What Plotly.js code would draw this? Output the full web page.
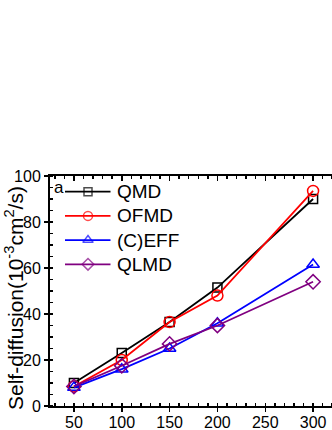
<!DOCTYPE html>
<html><head><meta charset="utf-8">
<script src="https://cdn.plot.ly/plotly-3.0.1.min.js"></script>
<style>html,body{margin:0;padding:0;overflow:hidden;background:#fff;width:332px;height:430px}</style>
</head><body><div id="chart"></div>
<script>
const temps = [50, 100, 150, 200, 300];
const qmd = [10, 23, 36.5, 51.5, 90];
const ofmd = [8.5, 20, 36.5, 48, 93.5];
const ceff = [8, 16, 25, 36, 61.5];
const qlmd = [8.5, 17.5, 27, 35, 54];
const names = ['QMD', 'OFMD', '(C)EFF', 'QLMD'];
const series = [qmd, ofmd, ceff, qlmd];
const colors = ['#000000', '#ff0000', '#0000ff', '#800080'];
const symbols = ['square-open', 'circle-open', 'triangle-up-open', 'diamond-open'];
const sizes = [9, 11, 11, 11];
const legSizes = [8, 9, 9, 9];

// plot-area geometry (px) used to place the hand-built legend
const W = 340, H = 430, ML = 50, MR = 3, MT = 176, MB = 24;
const PW = W - ML - MR, PH = H - MT - MB;
const px2x = p => (p - ML) / PW;
const px2y = p => (H - MB - p) / PH;
const legTop = 191.7, legStep = 24.2, legL = 65, legR = 110.5, legMk = 88, legTxt = 115;

const traces = series.map((s, i) => ({
  x: temps, y: s, name: names[i], type: 'scatter', mode: 'lines+markers',
  line: {color: colors[i], width: 1.8},
  marker: {symbol: symbols[i], size: sizes[i], color: colors[i], line: {width: 1.5, color: colors[i]}},
  showlegend: false
}));

const fnt = {family: 'Liberation Sans, Arial, sans-serif', color: '#000'};
const shapes = [], annotations = [];
names.forEach((n, i) => {
  const yy = px2y(legTop + i * legStep);
  shapes.push({type: 'line', xref: 'paper', yref: 'paper', x0: px2x(legL), x1: px2x(legR), y0: yy, y1: yy,
    line: {color: colors[i], width: 1.8}, layer: 'below'});
  annotations.push({text: n, xref: 'paper', yref: 'paper', x: px2x(legTxt), y: yy, xanchor: 'left', yanchor: 'middle',
    showarrow: false, font: Object.assign({size: 19}, fnt)});
});
// legend icons on a hidden [0,1] overlay
traces.push({
  x: names.map(() => px2x(legMk)), y: names.map((n, i) => px2y(legTop + i * legStep)),
  xaxis: 'x3', yaxis: 'y3', mode: 'markers', showlegend: false, hoverinfo: 'skip',
  marker: {symbol: symbols, size: legSizes, color: colors, line: {width: 1.5, color: colors}}
});
annotations.push({
  text: 'a', xref: 'paper', yref: 'paper', x: px2x(52), y: 1.0, xanchor: 'left', yanchor: 'top',
  showarrow: false, font: Object.assign({size: 17}, fnt)
});
annotations.push({
  text: 'Self-diffusion(10<sup>-3</sup>cm<sup>2</sup>/s)', xref: 'paper', yref: 'paper',
  x: px2x(14), y: px2y(298), xanchor: 'center', yanchor: 'middle', textangle: -90,
  showarrow: false, font: Object.assign({size: 21}, fnt)
});

const layout = {
  width: W, height: H,
  margin: {l: ML, r: MR, t: MT, b: MB},
  paper_bgcolor: '#fff', plot_bgcolor: '#fff',
  showlegend: false,
  font: Object.assign({size: 16}, fnt),
  xaxis: {
    range: [25, 325], tickvals: [50, 100, 150, 200, 250, 300],
    ticks: 'outside', ticklen: 4, tickwidth: 1.5, tickcolor: '#000', ticklabelstandoff: -3,
    minor: {dtick: 10, ticks: 'inside', ticklen: 3, tickcolor: '#000'},
    showline: true, linecolor: '#000', linewidth: 2, mirror: true,
    showgrid: false, zeroline: false,
    tickfont: Object.assign({size: 16}, fnt)
  },
  yaxis: {
    range: [0, 100], tickvals: [0, 20, 40, 60, 80, 100],
    ticks: 'outside', ticklen: 4, tickwidth: 1.5, tickcolor: '#000',
    minor: {dtick: 5, ticks: 'inside', ticklen: 3, tickcolor: '#000'},
    showline: true, linecolor: '#000', linewidth: 2, mirror: true,
    showgrid: false, zeroline: false,
    tickfont: Object.assign({size: 16}, fnt)
  },
  xaxis2: {
    overlaying: 'x', side: 'top', range: [25, 325], tickvals: [50, 100, 150, 200, 250, 300],
    ticks: 'inside', ticklen: 5, tickwidth: 1.5, tickcolor: '#000', showticklabels: false,
    minor: {dtick: 10, ticks: 'inside', ticklen: 3, tickcolor: '#000'},
    showgrid: false, zeroline: false, showline: false
  },
  yaxis2: {
    overlaying: 'y', side: 'right', range: [0, 100], tickvals: [0, 20, 40, 60, 80, 100],
    ticks: 'inside', ticklen: 5, tickwidth: 1.5, tickcolor: '#999', showticklabels: false,
    showgrid: false, zeroline: false, showline: false
  },
  xaxis3: {overlaying: 'x', range: [0, 1], visible: false, fixedrange: true},
  yaxis3: {overlaying: 'y', range: [0, 1], visible: false, fixedrange: true},
  shapes: shapes,
  annotations: annotations
};
traces.push({x: [25], y: [0], xaxis: 'x2', yaxis: 'y2', showlegend: false, mode: 'markers', marker: {opacity: 0}, hoverinfo: 'skip'});
Plotly.newPlot('chart', traces, layout, {displayModeBar: false, staticPlot: true});
</script></body></html>
